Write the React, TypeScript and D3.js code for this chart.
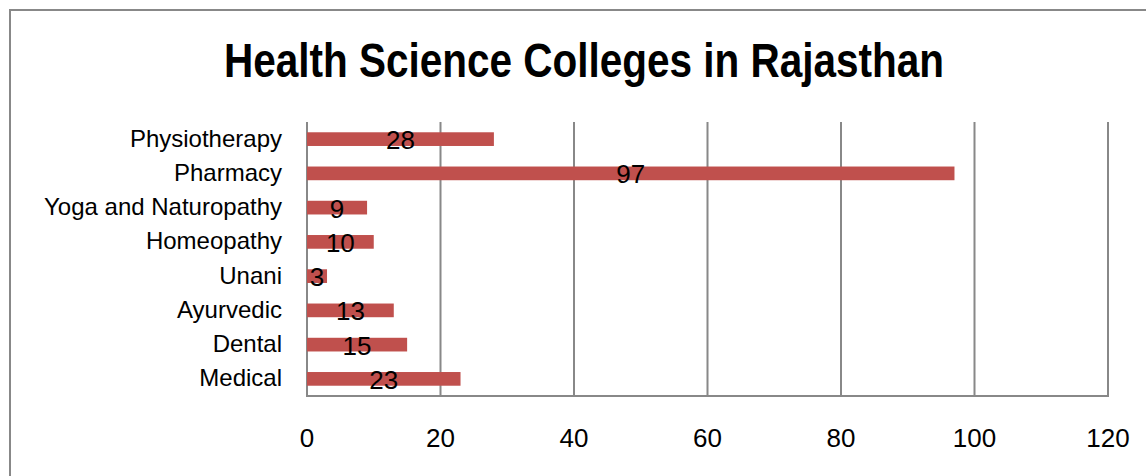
import React, { useEffect, useRef } from "react";
import * as d3 from "d3";

const categories = [
  "Physiotherapy",
  "Pharmacy",
  "Yoga and Naturopathy",
  "Homeopathy",
  "Unani",
  "Ayurvedic",
  "Dental",
  "Medical",
];
const colleges = [28, 97, 9, 10, 3, 13, 15, 23];
const xTicks = [0, 20, 40, 60, 80, 100, 120];

const App: React.FC = () => {
  const svgRef = useRef<SVGSVGElement>(null);

  useEffect(() => {
    document.body.style.margin = "0";
    const width = 1146;
    const height = 476;
    const left = 307;
    const right = 1108;
    const top = 122;
    const bottom = 396;
    const gray = "#888888";

    const svg = d3.select(svgRef.current);
    svg.selectAll("*").remove();

    // outer chart frame (right and bottom edges run off the picture)
    svg.append("rect")
      .attr("x", 10)
      .attr("y", 10)
      .attr("width", width + 40)
      .attr("height", height + 40)
      .attr("fill", "white")
      .attr("stroke", gray)
      .attr("stroke-width", 2);

    // condensed bold title, squeezed to the reference width
    svg.append("text")
      .attr("x", 224)
      .attr("y", 77)
      .attr("textLength", 720)
      .attr("lengthAdjust", "spacingAndGlyphs")
      .attr("font-family", "'Liberation Sans', Arial, sans-serif")
      .attr("font-weight", "bold")
      .attr("font-size", 48)
      .attr("fill", "#000")
      .text("Health Science Colleges in Rajasthan");

    const x = d3.scaleLinear().domain([0, 120]).range([left, right]);
    const y = d3.scaleBand<string>()
      .domain(categories)
      .range([top, bottom])
      .paddingInner(0.6)
      .paddingOuter(0.3);

    // vertical gridlines
    svg.append("g")
      .selectAll("line")
      .data(xTicks.slice(1))
      .join("line")
      .attr("x1", (d) => x(d))
      .attr("x2", (d) => x(d))
      .attr("y1", top)
      .attr("y2", bottom)
      .attr("stroke", gray)
      .attr("stroke-width", 2);

    // axes lines
    svg.append("line")
      .attr("x1", left).attr("x2", left)
      .attr("y1", top).attr("y2", bottom + 1)
      .attr("stroke", gray).attr("stroke-width", 2);
    svg.append("line")
      .attr("x1", left).attr("x2", right + 1)
      .attr("y1", bottom).attr("y2", bottom)
      .attr("stroke", gray).attr("stroke-width", 2);

    // bars
    svg.append("g")
      .selectAll("rect")
      .data(categories)
      .join("rect")
      .attr("x", left)
      .attr("y", (d) => y(d)!)
      .attr("width", (_, i) => x(colleges[i]) - left)
      .attr("height", y.bandwidth())
      .attr("fill", "#C0504D");

    // value labels centred on the bars
    svg.append("g")
      .selectAll("text")
      .data(categories)
      .join("text")
      .attr("x", (_, i) => (left + x(colleges[i])) / 2)
      .attr("y", (d) => y(d)! + y.bandwidth() / 2 + 10)
      .attr("text-anchor", "middle")
      .attr("font-family", "'Liberation Sans', Arial, sans-serif")
      .attr("font-size", 26)
      .attr("fill", "#000")
      .text((_, i) => String(colleges[i]));

    // category labels
    svg.append("g")
      .selectAll("text")
      .data(categories)
      .join("text")
      .attr("x", 282)
      .attr("y", (d) => y(d)! + y.bandwidth() / 2 + 7.5)
      .attr("text-anchor", "end")
      .attr("font-family", "'Liberation Sans', Arial, sans-serif")
      .attr("font-size", 24)
      .attr("fill", "#000")
      .text((d) => d);

    // x tick labels
    svg.append("g")
      .selectAll("text")
      .data(xTicks)
      .join("text")
      .attr("x", (d) => x(d))
      .attr("y", 447)
      .attr("text-anchor", "middle")
      .attr("font-family", "'Liberation Sans', Arial, sans-serif")
      .attr("font-size", 26)
      .attr("fill", "#000")
      .text((d) => String(d));
  }, []);

  return <svg ref={svgRef} width={1146} height={476} style={{ display: "block" }}></svg>;
};

export default App;
